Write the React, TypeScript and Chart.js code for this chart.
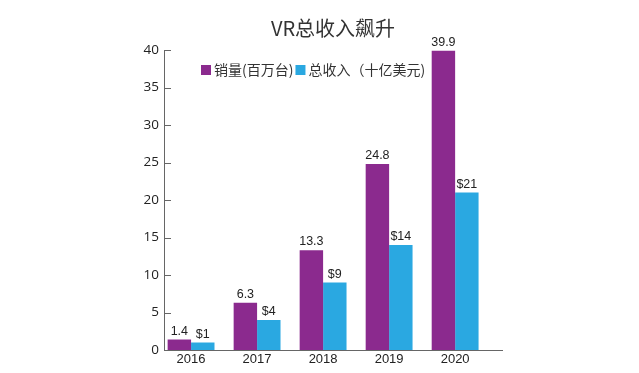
import React, { useEffect, useRef } from "react";
import { Chart, registerables } from "chart.js";

Chart.register(...registerables);

const YEARS = ["2016", "2017", "2018", "2019", "2020"];
const UNITS_SOLD = [1.4, 6.3, 13.3, 24.8, 39.9];
const REVENUE = [1, 4, 9, 14, 21];
const UNITS_LABELS = ["1.4", "6.3", "13.3", "24.8", "39.9"];
const REVENUE_LABELS = ["$1", "$4", "$9", "$14", "$21"];
const SERIES_NAMES = ["销量(百万台)", "总收入（十亿美元)"];
const TITLE = "VR总收入飙升";

const PURPLE = "#8b2a8e";
const BLUE = "#2aa8e1";
const AXIS = "#666666";
const CJK = "'Noto Sans CJK SC', 'Noto Sans', sans-serif";
const NUM = "'Liberation Sans', Arial, sans-serif";

const valueLabelPlugin = {
  id: "valueLabels",
  afterDatasetsDraw(chart: any) {
    const ctx = chart.ctx;
    ctx.save();
    ctx.font = `12.5px ${NUM}`;
    ctx.fillStyle = "#222";
    ctx.textAlign = "center";
    ctx.textBaseline = "bottom";
    chart.data.datasets.forEach((ds: any, di: number) => {
      const meta = chart.getDatasetMeta(di);
      meta.data.forEach((bar: any, i: number) => {
        ctx.fillText(ds.valueLabels[i], bar.x, bar.y - 2);
      });
    });
    ctx.restore();
  },
};

const innerTicksPlugin = {
  id: "innerTicks",
  afterDraw(chart: any) {
    const ctx = chart.ctx;
    const y = chart.scales.y;
    const left = chart.chartArea.left;
    ctx.save();
    ctx.strokeStyle = AXIS;
    ctx.lineWidth = 1;
    y.ticks.forEach((t: any) => {
      const py = Math.round(y.getPixelForValue(t.value)) + 0.5;
      ctx.beginPath();
      ctx.moveTo(left, py);
      ctx.lineTo(left + 7, py);
      ctx.stroke();
    });
    ctx.restore();
  },
};

const legendPlugin = {
  id: "insideLegend",
  afterDraw(chart: any) {
    const ctx = chart.ctx;
    const area = chart.chartArea;
    let x = area.left + 37;
    const cy = area.top + 20;
    ctx.save();
    ctx.font = `14px ${CJK}`;
    ctx.textBaseline = "middle";
    ctx.textAlign = "left";
    chart.data.datasets.forEach((ds: any) => {
      ctx.fillStyle = ds.backgroundColor;
      ctx.fillRect(x, cy - 5, 10, 10);
      x += 13;
      ctx.fillStyle = "#333";
      ctx.fillText(ds.label, x, cy);
      x += ctx.measureText(ds.label).width + 2;
    });
    ctx.restore();
  },
};

export default function App() {
  const ref = useRef<HTMLCanvasElement>(null);

  useEffect(() => {
    if (!ref.current) return;
    const chart = new Chart(ref.current, {
      type: "bar",
      data: {
        datasets: [
          {
            label: SERIES_NAMES[0],
            data: UNITS_SOLD.map((v, i) => ({ x: i, y: v })),
            backgroundColor: PURPLE,
            valueLabels: UNITS_LABELS,
          } as any,
          {
            label: SERIES_NAMES[1],
            data: REVENUE.map((v, i) => ({ x: i, y: v })),
            backgroundColor: BLUE,
            valueLabels: REVENUE_LABELS,
          } as any,
        ],
      },
      options: {
        responsive: false,
        animation: false,
        events: [],
        categoryPercentage: 0.71,
        barPercentage: 1,
        layout: { padding: { left: 116, right: 129, top: 0, bottom: 0 } },
        plugins: {
          legend: { display: false },
          tooltip: { enabled: false },
          title: {
            display: true,
            text: TITLE,
            fullSize: false,
            color: "#333",
            font: { family: CJK, size: 20, weight: "normal" as any },
            padding: { top: 8, bottom: 10 },
          },
        },
        scales: {
          x: {
            type: "linear",
            offset: false,
            min: -0.41,
            max: 4.71,
            grid: { display: false, drawTicks: false },
            border: { display: true, color: AXIS, width: 1 },
            afterFit(scale: any) {
              scale.height = 15;
            },
            ticks: {
              stepSize: 1,
              includeBounds: false,
              autoSkip: false,
              maxRotation: 0,
              padding: 2,
              color: "#222",
              font: { family: NUM, size: 13 },
              callback: (v: any) => YEARS[v as number] ?? "",
            },
          },
          y: {
            min: 0,
            max: 40,
            grid: { display: false, drawTicks: false },
            border: { display: true, color: AXIS, width: 1 },
            afterFit(scale: any) {
              scale.width = 40;
            },
            ticks: {
              stepSize: 5,
              padding: 5,
              color: "#222",
              font: { family: "'Open Sans', sans-serif", size: 13.5 },
            },
          },
        },
      },
      plugins: [valueLabelPlugin, innerTicksPlugin, legendPlugin],
    } as any);
    return () => chart.destroy();
  }, []);

  return (
    <div style={{ width: 623, height: 357, position: "relative", overflow: "hidden" }}>
      <canvas ref={ref} width={623} height={357} />
    </div>
  );
}
